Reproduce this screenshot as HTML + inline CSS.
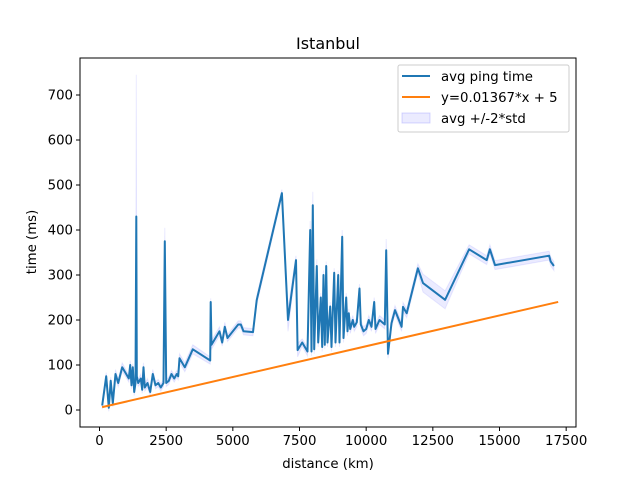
<!DOCTYPE html>
<html><head><meta charset="utf-8"><style>
body{margin:0;background:#fff;font-family:"Liberation Sans","DejaVu Sans",sans-serif;}
svg text{font-family:"DejaVu Sans","Liberation Sans",sans-serif;}
</style></head><body>
<svg id="chart" width="640" height="480" xmlns="http://www.w3.org/2000/svg">
<rect width="640" height="480" fill="#fff"/>
<g id="plot"></g>
</svg>
<script>
const distances=[100,250,350,420,500,600,700,850,1000,1100,1150,1200,1250,1300,1350,1380,1400,1450,1550,1600,1650,1700,1800,1900,2000,2100,2200,2300,2400,2450,2500,2600,2700,2800,2900,2950,3000,3200,3500,4150,4170,4200,4500,4600,4700,4800,5200,5300,5400,5756,5894,6840,7070,7370,7430,7600,7800,7900,7950,8000,8050,8150,8200,8300,8350,8400,8450,8500,8550,8650,8700,8800,8850,8950,9000,9100,9150,9250,9300,9350,9400,9500,9550,9650,9750,9800,9900,10000,10100,10200,10300,10350,10500,10700,10750,10820,10950,11080,11330,11380,11520,11940,12130,12960,13860,14520,14640,14830,16860,16920,17040];
const avgPing=[10,75,5,65,15,80,60,95,80,70,100,55,95,40,60,430,75,60,70,45,95,50,60,40,80,55,60,50,60,375,60,65,80,70,80,75,115,95,135,110,240,145,175,150,185,160,190,190,175,173,244,482,200,333,133,150,130,400,130,455,135,320,150,250,140,300,145,320,150,230,140,305,150,300,150,385,160,250,175,215,180,200,185,195,270,190,175,180,200,185,240,180,200,190,355,125,193,222,185,229,215,315,282,245,357,333,357,322,343,330,320];
const stdDev=[8,8,8,8,8,10,8,10,8,8,10,8,8,8,8,315,8,8,10,8,10,8,10,8,10,8,8,8,8,30,8,8,8,8,8,8,10,10,10,8,8,10,10,8,10,8,8,8,8,8,10,8,25,10,15,8,10,20,10,30,10,15,10,10,10,10,10,10,10,10,10,10,10,10,10,15,10,10,10,10,10,10,10,10,10,10,10,10,10,10,10,10,10,10,25,10,10,10,10,10,10,10,20,20,10,10,10,10,10,10,10];
const xTicks=[0,2500,5000,7500,10000,12500,15000,17500];
const yTicks=[0,100,200,300,400,500,600,700];
const slope=0.01367, intercept=5;

const L=80,R=576,T=58,B=427;
const xs=v=>99.5+v/37.5;
const ys=v=>410-v*0.45;
const NS="http://www.w3.org/2000/svg";
const g=document.getElementById('plot');
function mk(t,a){const e=document.createElementNS(NS,t);for(const k in a)e.setAttribute(k,a[k]);g.appendChild(e);return e;}

let up=distances.map((d,i)=>xs(d).toFixed(1)+','+ys(avgPing[i]+stdDev[i]).toFixed(1));
let dn=distances.map((d,i)=>xs(d).toFixed(1)+','+ys(avgPing[i]-stdDev[i]).toFixed(1)).reverse();
const band=mk('polygon',{points:up.concat(dn).join(' '),fill:'#0000ff',"fill-opacity":0.08,stroke:'#0000ff',"stroke-opacity":0.08});


const avg=mk('polyline',{points:distances.map((d,i)=>xs(d).toFixed(1)+','+ys(avgPing[i]).toFixed(1)).join(' '),fill:'none',stroke:'#1f77b4',"stroke-width":2,"stroke-linejoin":"round"});


const x0=distances[0],x1=17200;
const fit=mk('line',{x1:xs(x0),y1:ys(slope*x0+intercept),x2:xs(x1),y2:ys(slope*x1+intercept),stroke:'#ff7f0e',"stroke-width":2});


const fr=mk('rect',{x:L,y:T,width:R-L,height:B-T,fill:'none',stroke:'#000',"stroke-width":1});


xTicks.forEach(t=>{const x=xs(t);
 const tk=mk('line',{x1:x,y1:B,x2:x,y2:B+4,stroke:'#000'});
 
 
 const tx=mk('text',{x:x,y:B+18,"text-anchor":"middle","font-size":13.3});tx.textContent=t;
 
 });
yTicks.forEach(t=>{const y=ys(t);
 const tk=mk('line',{x1:L-4,y1:y,x2:L,y2:y,stroke:'#000'});
 
 
 const tx=mk('text',{x:L-7,y:y+4.5,"text-anchor":"end","font-size":13.3});tx.textContent=t;
 
 });
</script>
<svg width="640" height="480" style="position:absolute;left:0;top:0" xmlns="http://www.w3.org/2000/svg">
<text x="328" y="49" text-anchor="middle" font-size="16" font-family="DejaVu Sans, sans-serif">Istanbul</text>
<text x="328" y="468" text-anchor="middle" font-size="13.3" font-family="DejaVu Sans, sans-serif">distance (km)</text>
<text transform="translate(36,242) rotate(-90)" text-anchor="middle" font-size="13.3" font-family="DejaVu Sans, sans-serif">time (ms)</text>
<g font-family="DejaVu Sans, sans-serif" font-size="13.3">
<rect x="398" y="65" width="171" height="67" rx="2" fill="#fff" fill-opacity="0.8" stroke="#ccc"/>
<g><line x1="402" y1="76" x2="430" y2="76" stroke="#1f77b4" stroke-width="2"/><text x="441" y="81">avg ping time</text></g>
<g><line x1="402" y1="97" x2="430" y2="97" stroke="#ff7f0e" stroke-width="2"/><text x="441" y="102">y=0.01367*x + 5</text></g>
<g><rect x="402" y="113" width="28" height="10" fill="#0000ff" fill-opacity="0.08" stroke="#0000ff" stroke-opacity="0.15"/><text x="441" y="123">avg +/-2*std</text></g>
</g>
</svg>
</body></html>
